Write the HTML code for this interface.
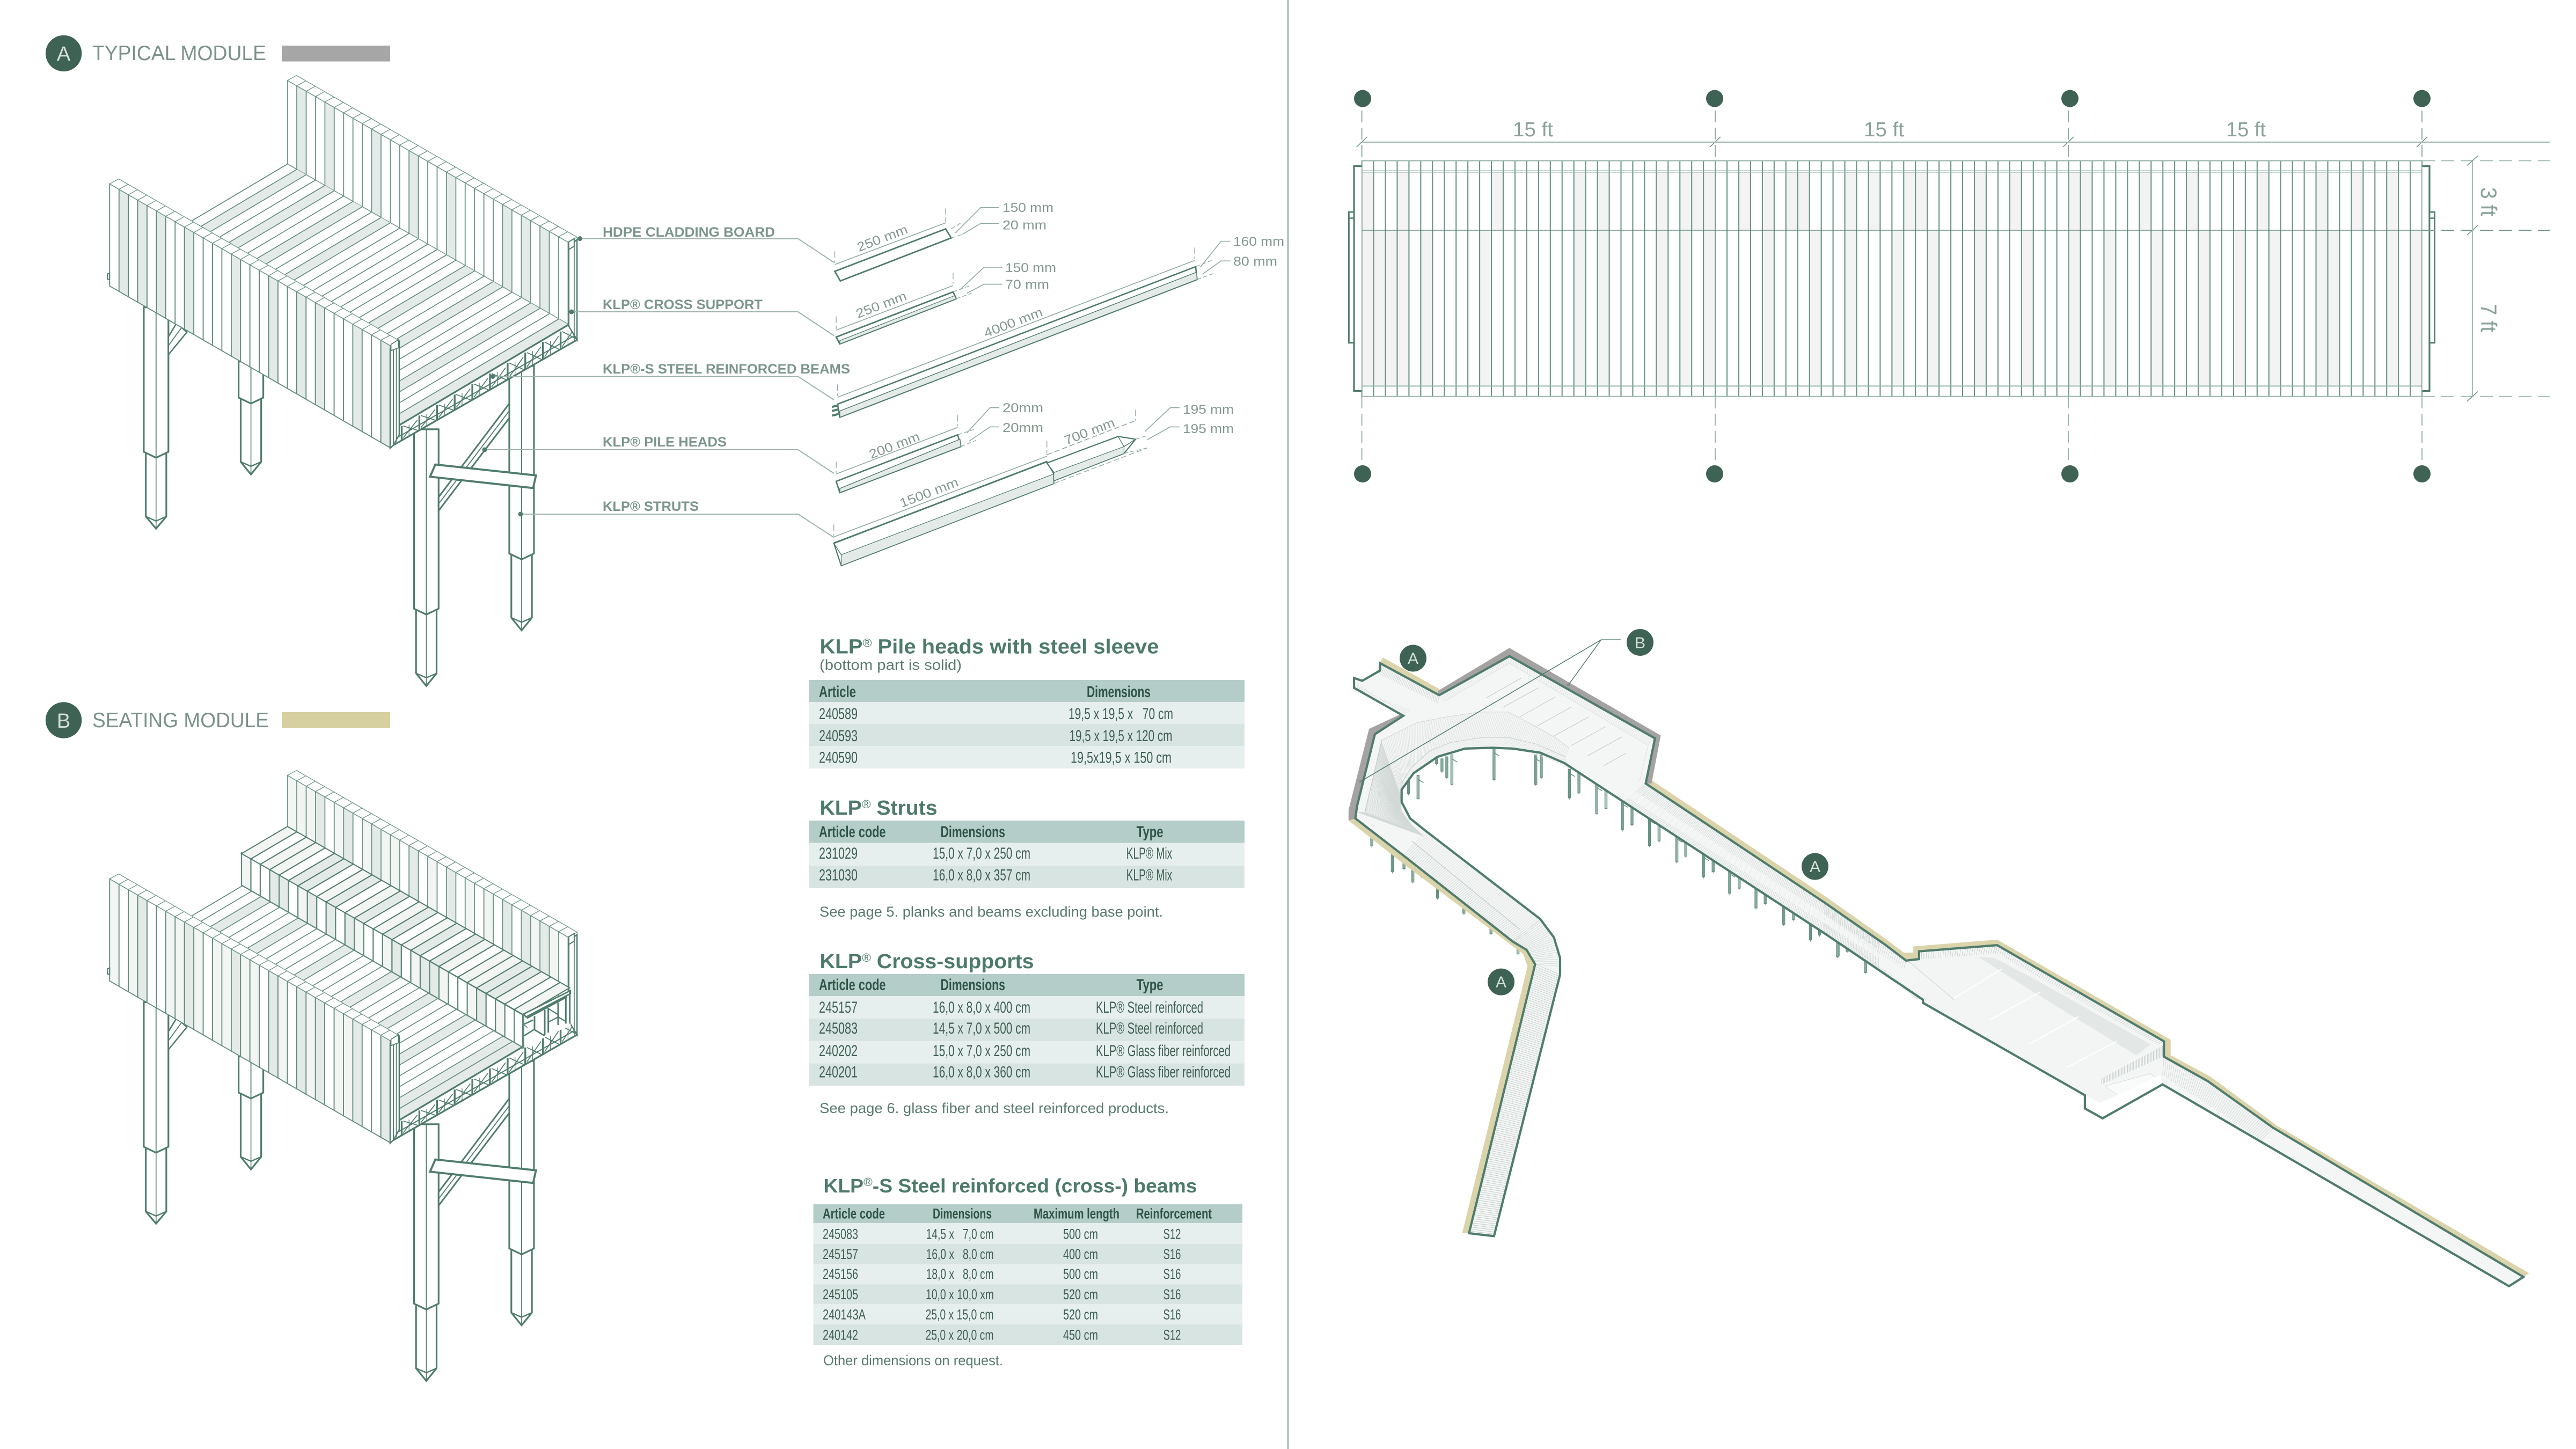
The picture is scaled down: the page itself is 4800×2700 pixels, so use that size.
<!DOCTYPE html>
<html><head><meta charset="utf-8"><title>KLP modules</title>
<style>
html,body{margin:0;padding:0;background:#fff;width:4800px;height:2700px;overflow:hidden}
svg{display:block;position:absolute;left:0;top:0}
text{font-family:"Liberation Sans",sans-serif}
.ti{font-size:39px;fill:#7a918a}
.lb{font-size:25px;font-weight:bold;fill:#7b958c}
.dm{font-size:24px;fill:#84998f}
.h{font-size:38px;font-weight:bold;fill:#4d7a6c}
.n{font-size:27px;fill:#5a7a70}
.th{font-size:30px;font-weight:bold;fill:#2f5548}
.td{font-size:30px;fill:#3f5f54}
.th2{font-size:27px;font-weight:bold;fill:#2f5548}
.td2{font-size:27px;fill:#3f5f54}
.ft{font-size:38px;fill:#8aa299}
.ft2{font-size:42px;fill:#8aa299}
.c{fill:#d5e0db;text-anchor:middle}
.r{font-size:22px;font-weight:normal}
</style></head><body>
<svg xmlns="http://www.w3.org/2000/svg" width="4800" height="2700" viewBox="0 0 4800 2700">
<rect width="4800" height="2700" fill="#fff"/>
<rect x="2398" y="0" width="4" height="2700" fill="#b5c9c3"/>
<g id="geo"></g>
<circle cx="118.6" cy="99.4" r="33.7" fill="#3e6253"/><text class="c" x="118.6" y="113" font-size="38">A</text>
<text class="ti" x="172" y="112" textLength="324" lengthAdjust="spacingAndGlyphs">TYPICAL MODULE</text>
<rect x="525" y="85" width="202" height="29.5" fill="#a6a6a6"/>
<circle cx="118.6" cy="1342" r="33.7" fill="#3e6253"/><text class="c" x="118.6" y="1356" font-size="38">B</text>
<text class="ti" x="172" y="1355" textLength="329" lengthAdjust="spacingAndGlyphs">SEATING MODULE</text>
<rect x="525" y="1327" width="202" height="29.5" fill="#d6cfa0"/>

<text class="lb" x="1123" y="441" textLength="321" lengthAdjust="spacingAndGlyphs">HDPE CLADDING BOARD</text>
<text class="lb" x="1123" y="576" textLength="298" lengthAdjust="spacingAndGlyphs">KLP® CROSS SUPPORT</text>
<text class="lb" x="1123" y="696" textLength="461" lengthAdjust="spacingAndGlyphs">KLP®-S STEEL REINFORCED BEAMS</text>
<text class="lb" x="1123" y="832" textLength="231" lengthAdjust="spacingAndGlyphs">KLP® PILE HEADS</text>
<text class="lb" x="1123" y="952" textLength="179" lengthAdjust="spacingAndGlyphs">KLP® STRUTS</text>

<text class="dm" x="1868" y="395" textLength="95" lengthAdjust="spacingAndGlyphs">150 mm</text>
<text class="dm" x="1868" y="427.5" textLength="82" lengthAdjust="spacingAndGlyphs">20 mm</text>
<text class="dm" x="1873" y="507" textLength="95" lengthAdjust="spacingAndGlyphs">150 mm</text>
<text class="dm" x="1873" y="538" textLength="82" lengthAdjust="spacingAndGlyphs">70 mm</text>
<text class="dm" x="2298" y="458" textLength="95" lengthAdjust="spacingAndGlyphs">160 mm</text>
<text class="dm" x="2298" y="495" textLength="82" lengthAdjust="spacingAndGlyphs">80 mm</text>
<text class="dm" x="1868" y="768" textLength="76" lengthAdjust="spacingAndGlyphs">20mm</text>
<text class="dm" x="1868" y="805" textLength="76" lengthAdjust="spacingAndGlyphs">20mm</text>
<text class="dm" x="2204" y="771" textLength="95" lengthAdjust="spacingAndGlyphs">195 mm</text>
<text class="dm" x="2204" y="807" textLength="95" lengthAdjust="spacingAndGlyphs">195 mm</text>
<g text-anchor="middle">
<text class="dm" x="1644" y="452" transform="rotate(-21 1644 444)" textLength="99" lengthAdjust="spacingAndGlyphs">250 mm</text>
<text class="dm" x="1642" y="576" transform="rotate(-21 1642 568)" textLength="99" lengthAdjust="spacingAndGlyphs">250 mm</text>
<text class="dm" x="1888" y="609" transform="rotate(-21 1888 601)" textLength="115" lengthAdjust="spacingAndGlyphs">4000 mm</text>
<text class="dm" x="1666.5" y="838" transform="rotate(-21 1666.5 830)" textLength="99" lengthAdjust="spacingAndGlyphs">200 mm</text>
<text class="dm" x="1731" y="926" transform="rotate(-21 1731 918)" textLength="115" lengthAdjust="spacingAndGlyphs">1500 mm</text>
<text class="dm" x="2030" y="812" transform="rotate(-21 2030 804)" textLength="99" lengthAdjust="spacingAndGlyphs">700 mm</text>
</g>

<!-- table backgrounds -->
<rect x="1507" y="1267" width="812" height="41" fill="#b5cdc8"/>
<rect x="1507" y="1308" width="812" height="40.6" fill="#e6efed"/>
<rect x="1507" y="1348.6" width="812" height="41.4" fill="#d8e4e1"/>
<rect x="1507" y="1390" width="812" height="42" fill="#e6efed"/>
<rect x="1507" y="1529" width="812" height="41.5" fill="#b5cdc8"/>
<rect x="1507" y="1570.5" width="812" height="42.5" fill="#e6efed"/>
<rect x="1507" y="1613" width="812" height="42" fill="#d8e4e1"/>
<rect x="1507" y="1815" width="812" height="41" fill="#b5cdc8"/>
<rect x="1507" y="1856" width="812" height="42" fill="#e6efed"/>
<rect x="1507" y="1898" width="812" height="42" fill="#d8e4e1"/>
<rect x="1507" y="1940" width="812" height="41.6" fill="#e6efed"/>
<rect x="1507" y="1981.6" width="812" height="41.4" fill="#d8e4e1"/>
<rect x="1515.5" y="2244" width="799.5" height="35" fill="#b5cdc8"/>
<rect x="1515.5" y="2279" width="799.5" height="39" fill="#e6efed"/>
<rect x="1515.5" y="2318" width="799.5" height="37.6" fill="#d8e4e1"/>
<rect x="1515.5" y="2355.6" width="799.5" height="37.9" fill="#e6efed"/>
<rect x="1515.5" y="2393.5" width="799.5" height="36.5" fill="#d8e4e1"/>
<rect x="1515.5" y="2430" width="799.5" height="38" fill="#e6efed"/>
<rect x="1515.5" y="2468" width="799.5" height="38" fill="#d8e4e1"/>

<!-- table 1 -->
<text class="h" x="1527.5" y="1217.5" textLength="632" lengthAdjust="spacingAndGlyphs">KLP<tspan class="r" dy="-12">®</tspan><tspan dy="12"> Pile heads with steel sleeve</tspan></text>
<text class="n" x="1527" y="1248" textLength="265" lengthAdjust="spacingAndGlyphs">(bottom part is solid)</text>
<text class="th" x="1526" y="1299" textLength="69" lengthAdjust="spacingAndGlyphs">Article</text>
<text class="th" x="2025" y="1299" textLength="119" lengthAdjust="spacingAndGlyphs">Dimensions</text>
<text class="td" x="1526" y="1340" textLength="72" lengthAdjust="spacingAndGlyphs">240589</text>
<text class="td" x="1991" y="1340" textLength="195" lengthAdjust="spacingAndGlyphs" xml:space="preserve">19,5 x 19,5 x   70 cm</text>
<text class="td" x="1526" y="1381" textLength="72" lengthAdjust="spacingAndGlyphs">240593</text>
<text class="td" x="1992.5" y="1381" textLength="192" lengthAdjust="spacingAndGlyphs">19,5 x 19,5 x 120 cm</text>
<text class="td" x="1526" y="1421.5" textLength="72" lengthAdjust="spacingAndGlyphs">240590</text>
<text class="td" x="1995" y="1421.5" textLength="188" lengthAdjust="spacingAndGlyphs">19,5x19,5 x 150 cm</text>

<!-- table 2 -->
<text class="h" x="1527.5" y="1518" textLength="219" lengthAdjust="spacingAndGlyphs">KLP<tspan class="r" dy="-12">®</tspan><tspan dy="12"> Struts</tspan></text>
<text class="th" x="1526" y="1560" textLength="124.5" lengthAdjust="spacingAndGlyphs">Article code</text>
<text class="th" x="1752.5" y="1560" textLength="120.5" lengthAdjust="spacingAndGlyphs">Dimensions</text>
<text class="th" x="2117.6" y="1560" textLength="50" lengthAdjust="spacingAndGlyphs">Type</text>
<text class="td" x="1526" y="1600" textLength="72" lengthAdjust="spacingAndGlyphs">231029</text>
<text class="td" x="1738" y="1600" textLength="182" lengthAdjust="spacingAndGlyphs">15,0 x 7,0 x 250 cm</text>
<text class="td" x="2098.7" y="1600" textLength="85.5" lengthAdjust="spacingAndGlyphs">KLP® Mix</text>
<text class="td" x="1526" y="1640.5" textLength="72" lengthAdjust="spacingAndGlyphs">231030</text>
<text class="td" x="1738" y="1640.5" textLength="182" lengthAdjust="spacingAndGlyphs">16,0 x 8,0 x 357 cm</text>
<text class="td" x="2098.7" y="1640.5" textLength="85.5" lengthAdjust="spacingAndGlyphs">KLP® Mix</text>
<text class="n" x="1527" y="1708" textLength="640" lengthAdjust="spacingAndGlyphs">See page 5. planks and beams excluding base point.</text>

<!-- table 3 -->
<text class="h" x="1527.5" y="1804" textLength="399" lengthAdjust="spacingAndGlyphs">KLP<tspan class="r" dy="-12">®</tspan><tspan dy="12"> Cross-supports</tspan></text>
<text class="th" x="1526" y="1845" textLength="124.5" lengthAdjust="spacingAndGlyphs">Article code</text>
<text class="th" x="1752.5" y="1845" textLength="120.5" lengthAdjust="spacingAndGlyphs">Dimensions</text>
<text class="th" x="2117.6" y="1845" textLength="50" lengthAdjust="spacingAndGlyphs">Type</text>
<text class="td" x="1526" y="1887" textLength="72" lengthAdjust="spacingAndGlyphs">245157</text>
<text class="td" x="1738" y="1887" textLength="182" lengthAdjust="spacingAndGlyphs">16,0 x 8,0 x 400 cm</text>
<text class="td" x="2042" y="1887" textLength="200" lengthAdjust="spacingAndGlyphs">KLP® Steel reinforced</text>
<text class="td" x="1526" y="1926" textLength="72" lengthAdjust="spacingAndGlyphs">245083</text>
<text class="td" x="1738" y="1926" textLength="182" lengthAdjust="spacingAndGlyphs">14,5 x 7,0 x 500 cm</text>
<text class="td" x="2042" y="1926" textLength="200" lengthAdjust="spacingAndGlyphs">KLP® Steel reinforced</text>
<text class="td" x="1526" y="1968" textLength="72" lengthAdjust="spacingAndGlyphs">240202</text>
<text class="td" x="1738" y="1968" textLength="182" lengthAdjust="spacingAndGlyphs">15,0 x 7,0 x 250 cm</text>
<text class="td" x="2042" y="1968" textLength="251" lengthAdjust="spacingAndGlyphs">KLP® Glass fiber reinforced</text>
<text class="td" x="1526" y="2007.6" textLength="72" lengthAdjust="spacingAndGlyphs">240201</text>
<text class="td" x="1738" y="2007.6" textLength="182" lengthAdjust="spacingAndGlyphs">16,0 x 8,0 x 360 cm</text>
<text class="td" x="2042" y="2007.6" textLength="251" lengthAdjust="spacingAndGlyphs">KLP® Glass fiber reinforced</text>
<text class="n" x="1527" y="2074" textLength="651" lengthAdjust="spacingAndGlyphs">See page 6. glass fiber and steel reinforced products.</text>

<!-- table 4 -->
<text class="h" x="1534.5" y="2222" style="font-size:36px" textLength="696" lengthAdjust="spacingAndGlyphs">KLP<tspan class="r" dy="-12">®</tspan><tspan dy="12">-S Steel reinforced (cross-) beams</tspan></text>
<text class="th2" x="1533" y="2270.5" textLength="116" lengthAdjust="spacingAndGlyphs">Article code</text>
<text class="th2" x="1738" y="2270.5" textLength="110" lengthAdjust="spacingAndGlyphs">Dimensions</text>
<text class="th2" x="1926" y="2270.5" textLength="160" lengthAdjust="spacingAndGlyphs">Maximum length</text>
<text class="th2" x="2117" y="2270.5" textLength="141" lengthAdjust="spacingAndGlyphs">Reinforcement</text>
<text class="td2" x="1533" y="2308.5" textLength="66" lengthAdjust="spacingAndGlyphs">245083</text>
<text class="td2" x="1725.6" y="2308.5" textLength="126" lengthAdjust="spacingAndGlyphs" xml:space="preserve">14,5 x   7,0 cm</text>
<text class="td2" x="1981" y="2308.5" textLength="65" lengthAdjust="spacingAndGlyphs">500 cm</text>
<text class="td2" x="2167.5" y="2308.5" textLength="33" lengthAdjust="spacingAndGlyphs">S12</text>
<text class="td2" x="1533" y="2346" textLength="66" lengthAdjust="spacingAndGlyphs">245157</text>
<text class="td2" x="1725.6" y="2346" textLength="126" lengthAdjust="spacingAndGlyphs" xml:space="preserve">16,0 x   8,0 cm</text>
<text class="td2" x="1981" y="2346" textLength="65" lengthAdjust="spacingAndGlyphs">400 cm</text>
<text class="td2" x="2167.5" y="2346" textLength="33" lengthAdjust="spacingAndGlyphs">S16</text>
<text class="td2" x="1533" y="2383" textLength="66" lengthAdjust="spacingAndGlyphs">245156</text>
<text class="td2" x="1725.6" y="2383" textLength="126" lengthAdjust="spacingAndGlyphs" xml:space="preserve">18,0 x   8,0 cm</text>
<text class="td2" x="1981" y="2383" textLength="65" lengthAdjust="spacingAndGlyphs">500 cm</text>
<text class="td2" x="2167.5" y="2383" textLength="33" lengthAdjust="spacingAndGlyphs">S16</text>
<text class="td2" x="1533" y="2421" textLength="66" lengthAdjust="spacingAndGlyphs">245105</text>
<text class="td2" x="1725" y="2421" textLength="127" lengthAdjust="spacingAndGlyphs">10,0 x 10,0 xm</text>
<text class="td2" x="1981" y="2421" textLength="65" lengthAdjust="spacingAndGlyphs">520 cm</text>
<text class="td2" x="2167.5" y="2421" textLength="33" lengthAdjust="spacingAndGlyphs">S16</text>
<text class="td2" x="1533" y="2458.6" textLength="80" lengthAdjust="spacingAndGlyphs">240143A</text>
<text class="td2" x="1724.5" y="2458.6" textLength="127" lengthAdjust="spacingAndGlyphs">25,0 x 15,0 cm</text>
<text class="td2" x="1981" y="2458.6" textLength="65" lengthAdjust="spacingAndGlyphs">520 cm</text>
<text class="td2" x="2167.5" y="2458.6" textLength="33" lengthAdjust="spacingAndGlyphs">S16</text>
<text class="td2" x="1533" y="2496.5" textLength="66" lengthAdjust="spacingAndGlyphs">240142</text>
<text class="td2" x="1724.5" y="2496.5" textLength="127" lengthAdjust="spacingAndGlyphs">25,0 x 20,0 cm</text>
<text class="td2" x="1981" y="2496.5" textLength="65" lengthAdjust="spacingAndGlyphs">450 cm</text>
<text class="td2" x="2167.5" y="2496.5" textLength="33" lengthAdjust="spacingAndGlyphs">S12</text>
<text class="n" x="1534" y="2544" textLength="335" lengthAdjust="spacingAndGlyphs">Other dimensions on request.</text>

<!-- plan labels -->
<text class="ft" x="2819" y="254" textLength="75" lengthAdjust="spacingAndGlyphs">15 ft</text>
<text class="ft" x="3473" y="254" textLength="75" lengthAdjust="spacingAndGlyphs">15 ft</text>
<text class="ft" x="4148" y="254" textLength="74" lengthAdjust="spacingAndGlyphs">15 ft</text>
<text class="ft2" x="4623" y="349" transform="rotate(90 4623 349)" textLength="54" lengthAdjust="spacingAndGlyphs">3 ft</text>
<text class="ft2" x="4623" y="566" transform="rotate(90 4623 566)" textLength="53" lengthAdjust="spacingAndGlyphs">7 ft</text>

<g id="cir"></g>
<text class="c" x="2633" y="1237" font-size="30">A</text>
<text class="c" x="3382" y="1625" font-size="30">A</text>
<text class="c" x="2797" y="1840" font-size="30">A</text>
<text class="c" x="3056" y="1208" font-size="30">B</text>
</svg>
<script>
var G='#4f7c6d',LG='#6f988a',FL='#5f8a7c',SH='#e4eae7',LS='#f3f5f3',DIM='#8fa99f';
var out=[];
function M(ox,oy,sx,sy){return function(p){return [+(ox+p[0]*sx).toFixed(1),+(oy+p[1]*sy).toFixed(1)];};}
function poly(m,pts,fill,stroke,w,open){
 var s=pts.map(function(p){return m(p).join(',');}).join(' ');
 out.push('<'+(open?'polyline':'polygon')+' points="'+s+'" fill="'+(fill||'none')+'" stroke="'+(stroke||'none')+'" stroke-width="'+(w||0)+'" stroke-linejoin="miter"/>');
}
function line(m,a,b,stroke,w,dash){
 var p=m(a),q=m(b);
 out.push('<line x1="'+p[0]+'" y1="'+p[1]+'" x2="'+q[0]+'" y2="'+q[1]+'" stroke="'+stroke+'" stroke-width="'+w+'"'+(dash?' stroke-dasharray="'+dash+'"':'')+'/>');
}
var I=function(p){return p;};

/* ---------- modules ---------- */
function module3d(oy,dy,seat){
 var base=M(0,oy,0.7653,0.842);
 var m=function(p){return base([p[0],p[1]+dy]);};
 var raw=base;
 var sx=22.77,sy=11.93;
 function leg(cx,top,sh,body,tip){
  poly(m,[[cx-25,sh+3],[cx-25,body],[cx,tip],[cx+25,body],[cx+25,sh+3]],'#fff',G,3.2);
  poly(m,[[cx-25,body],[cx,body+10],[cx+25,body]],'none',G,2.4,true);
  line(m,[cx,sh+10],[cx,tip],G,1.6);
  poly(m,[[cx-30,top],[cx-30,sh],[cx,sh+13],[cx+30,sh],[cx+30,top]],'#fff',G,3.2);
  line(m,[cx,top],[cx,sh+13],G,1.8);
 }
 leg(380,680,1000,1143,1170);leg(611,800,880,1022,1050);
 poly(m,[[410,745],[430,715],[455,735],[410,785]],'#fff',G,2.6);
 line(m,[410,765],[442,725],G,1.8);
 leg(1038,950,1347,1490,1518);leg(1270,810,1225,1367,1395);
 poly(m,[[1068,1100],[1240,893],[1240,925],[1068,1130]],'#fff',G,3);
 line(m,[1068,1115],[1240,909],G,1.8);
 poly(m,[[1047,1055],[1060,1028],[1305,1052],[1298,1080]],'#fff',G,3.8);
 var backS=seat?{3:1,6:1,9:1,13:1,17:1,23:1,25:1,27:1}:{1:1,4:1,9:1,13:1,17:1,23:1,25:1,27:1};
 var backL=seat?{0:1,1:1,2:1,5:1,8:1,10:1,11:1,15:1,19:1,21:1,26:1,28:1}:{};
 var i,x,y;
 /* back wall */
 for(i=0;i<30;i++){
  x=700+i*sx;y=178+i*sy;
  var f=backS[i]?SH:(backL[i]?LS:'#fff');
  poly(m,[[x,y],[x+sx,y+sy],[x+sx,y+sy+185],[x,y+185]],f,LG,1.8);
 }
 for(i=0;i<30;i++){
  x=700+i*sx;y=178+i*sy;
  poly(m,[[x,y],[x+22,y-11],[x+45,y+1],[x+sx,y+sy]],'#fff',LG,1.3);
 }
 /* floor */
 poly(m,[[700,363],[1385,718],[972,941],[287,586]],'#fff',LG,1.5);
 var fs=seat?{2:1,6:1,11:1,16:1,20:1,24:1,28:1,29:1}:{1:1,4:1,7:1,10:1,19:1,22:1,26:1,29:1};
 for(i=0;i<30;i++){
  x=700+i*sx;y=363+i*11.83;
  if(fs[i])poly(m,[[x,y],[x+sx,y+11.83],[x+sx-413,y+11.83+223],[x-413,y+223]],SH);
  line(m,[x,y],[x-413,y+223],FL,1.6);
 }
 /* truss */
 poly(m,[[958,985],[1405,752],[1385,718],[972,941],[958,962]],'#fff',G,3.2);
 line(m,[960,972],[1400,742],G,2);
 for(i=0;i<10;i++){
  x=978+i*43;
  var bt=985-(x-958)*0.521,tp=941-(x-972)*0.54;
  line(m,[x,tp+5],[x,bt],G,3.4);
  line(m,[x+4,tp+5],[x+40,bt-22],G,1.7);
  line(m,[x+4,bt-6],[x+38,tp-8],G,1.7);
  line(m,[x+18,tp+2],[x+18,bt-8],G,1.2);
 }
 /* right end frame */
 poly(m,[[1385,545],[1405,530],[1405,752],[1385,722]],'#fff',G,2.4);
 line(m,[1398,535],[1398,752],G,1.8);
 poly(m,[[1385,535],[1398,528],[1398,545],[1385,552]],'#fff',G,2);
 if(seat){
  poly(raw,[[588,343],[1275,703],[1275,772],[588,415]],'#fff',LG,1.5);
  var rs={3:1,4:1,7:1,9:1,11:1,16:1,19:1,20:1,25:1};
  for(i=0;i<30;i++){
   x=588+i*22.9;y=343+i*12;
   poly(raw,[[x,y],[x+22.9,y+12],[x+22.9,y+84],[x,y+72]],rs[i]?SH:(i%3==0?LS:'#fff'),FL,2.2);
  }
  var ss={5:1,6:1,9:1,12:1,15:1,18:1,20:1,25:1,26:1};
  for(i=0;i<30;i++){
   x=700+i*22.9;y=285+i*11.9;
   poly(raw,[[x,y],[x+22.9,y+11.9],[x+22.9-112,y+11.9+60],[x-112,y+60]],ss[i]?SH:(i%3==1?'#fff':LS),G,2);
  }
  /* seat end frame, traced in full px */
  var c=M(900,1800,1/3,1/3);
  poly(c,[[222,272],[485,140],[490,330],[228,455]],'#fff');
  poly(c,[[228,268],[488,138],[488,155],[240,285]],'#fff',G,2.6);
  line(c,[245,292],[470,172],G,3);
  line(c,[288,280],[288,358],G,3);line(c,[345,245],[345,385],G,3);line(c,[365,235],[365,372],G,3);
  line(c,[420,205],[420,330],G,3);line(c,[463,180],[463,322],G,3);line(c,[485,140],[485,322],G,3);
  line(c,[230,325],[280,302],G,2.6);line(c,[230,390],[285,355],G,2.6);line(c,[285,355],[345,390],G,2.6);
  line(c,[368,240],[420,272],G,2.2);line(c,[368,312],[420,285],G,2.2);line(c,[420,285],[463,310],G,2.2);
  line(c,[232,330],[248,345],G,1.6);
  poly(c,[[222,272],[228,270],[228,455],[222,458]],'#f3f5f3',FL,2);
 }
 /* front wall */
 var frS={1:1,3:1,5:1,8:1,13:1,17:1,20:1,22:1,26:1,29:1};
 var frL=seat?{0:1,2:1,6:1,7:1,9:1,11:1,12:1,14:1,15:1,18:1,21:1,24:1,25:1}:{};
 if(seat)frS={3:1,8:1,13:1,17:1,20:1,22:1,26:1,29:1};
 for(i=0;i<30;i++){
  x=267+i*sx;y=407+i*sy;
  var ff=frS[i]?SH:(frL[i]?LS:'#fff');
  poly(m,[[x,y],[x+sx,y+sy],[x+sx,y+sy+226],[x,y+226]],ff,FL,1.8);
 }
 for(i=0;i<30;i++){
  x=267+i*sx;y=407+i*sy;
  poly(m,[[x,y],[x+22,y-11],[x+45,y+1],[x+sx,y+sy]],'#fff',LG,1.3);
 }
 poly(m,[[262,606],[267,604],[267,618],[262,618]],'#fff',G,2);
 poly(m,[[950,772],[972,756],[972,962],[958,985],[950,992]],'#fff',G,2.4);
 line(m,[958,768],[958,985],G,2);line(m,[965,772],[965,978],G,1.6);
 poly(m,[[952,762],[970,752],[970,770],[952,776]],'#fff',G,1.6);
}
module3d(0,0,false);
module3d(1300,-6,true);

/* leaders */
function ld(pts){var s=pts.map(function(p){return p.join(',');}).join(' ');out.push('<polyline points="'+s+'" fill="none" stroke="#9db3ab" stroke-width="2"/>');}
ld([[1080.6,444.6],[1487.5,445],[1554,489]]);
ld([[1065,581],[1487,581],[1554,625.5]]);
ld([[918,701.5],[1487,701.5],[1554,745]]);
ld([[903,838],[1487,838],[1554,882]]);
ld([[970,958],[1487,958],[1554,1001.5]]);
[[1080.6,444.6],[1065,581],[918,701.5],[903,838],[970,958]].forEach(function(p){out.push('<circle cx="'+p[0]+'" cy="'+p[1]+'" r="4.5" fill="'+G+'"/>');});

/* parts */
var m2=M(1100,350,0.861,0.5102);
function dim(a,b){line(m2,a,b,DIM,1.6);}
function tick(x,y1,y2){line(m2,[x,y1],[x,y2],DIM,1.4,'12 5');}
poly(m2,[[529,305],[769,150],[781,183],[541,340]],'#fff',G,2.8);
dim([529,280],[769,128]);tick(529,232,275);tick(769,75,125);
poly(m2,[[532,545],[785,380],[792,405],[540,570]],'#fff',G,2.8);
poly(m2,[[540,558],[788,394],[792,405],[540,570]],SH,G,1.2);
dim([532,520],[785,357]);tick(532,470,515);tick(785,310,350);
poly(m2,[[535,790],[1310,288],[1313,335],[540,838]],'#fff',G,2.6);
poly(m2,[[540,815],[1312,308],[1313,335],[540,838]],SH,G,1.4);
dim([535,765],[1308,265]);tick(535,718,760);tick(1308,218,260);
[[800],[815],[832]].forEach(function(a){line(m2,[523,a[0]],[537,a[0]-6],G,4);});
poly(m2,[[532,1072],[795,902],[802,945],[540,1113]],'#fff',G,2.6);
poly(m2,[[540,1098],[800,918],[802,945],[540,1113]],SH,G,1.4);
dim([532,1045],[795,875]);tick(532,1000,1040);tick(795,830,870);
poly(m2,[[527,1298],[988,1000],[1003,1045],[1003,1080],[543,1380]],'#fff',G,2.2);
poly(m2,[[543,1340],[1003,1045],[1003,1080],[543,1380]],SH,G,1.2);
line(m2,[527,1298],[988,1000],G,3);
line(m2,[527,1298],[543,1340],G,1.4);
poly(m2,[[988,1005],[1142,908],[1180,918],[1155,970],[1003,1070],[1003,1040]],'#fff',G,2.2);
poly(m2,[[1003,1040],[1155,945],[1155,970],[1003,1070]],SH,G,1.2);
line(m2,[1142,908],[1155,945],G,1.4);line(m2,[1155,945],[1180,918],G,1.4);
dim([527,1275],[988,980]);line(m2,[988,975],[1180,850],DIM,1.6,'10 5');
line(m2,[1003,1080],[1205,950],DIM,1.4,'10 5');
tick(527,1230,1270);tick(988,925,970);tick(1180,810,850);
[[[845,72],[885,72],[790,165]],[[845,130],[885,130],[805,170]],[[852,290],[892,290],[800,372]],[[852,352],[892,352],[815,385]],
 [[1365,195],[1385,195],[1320,290]],[[1365,267],[1385,267],[1325,315]],[[865,803],[885,803],[815,895]],[[865,873],[885,873],[820,925]],
 [[1255,803],[1275,803],[1200,890]],[[1255,873],[1275,873],[1205,920]]].forEach(function(a){
 poly(m2,[a[1],a[0],a[2]],'none',DIM,1.6,true);
});
[[781,183,805,170],[781,150,805,125],[792,405,825,385],[785,380,820,358],[1313,335,1350,312],[1310,288,1345,265],[802,945,835,922],[795,902,835,880],[1155,970,1205,950],[1180,918,1205,905]].forEach(function(a){
 line(m2,[a[0],a[1]],[a[2],a[3]],DIM,1.3,'8 4');
});

/* ---------- plan ---------- */
var px0=2537.6,step=21.95,yT=299.4,yB=738.7,yM=429;
var topS=[0,3,11,18,20,25,27,28,29,32,34,36,37,41,43,46,47,52,55,60,61,66,70,76,81,84,87];
var botS=[0,1,2,3,5,10,18,20,25,27,29,34,38,41,45,48,52,56,60,63,67,71,74,77,81,82,87,89];
topS.forEach(function(i){out.push('<rect x="'+(px0+i*step)+'" y="321" width="'+step+'" height="108" fill="#f3f3f3"/>');});
botS.forEach(function(i){out.push('<rect x="'+(px0+i*step)+'" y="429" width="'+step+'" height="289" fill="#f3f3f3"/>');});
var i;
for(i=0;i<=90;i++){var X=px0+i*step;line(I,[X,yT],[X,yB],'#6a9486',2.1);}
line(I,[px0,yT],[4513,yT],'#9fb9b1',2.2);line(I,[px0,yB],[4513,yB],'#9fb9b1',2.2);
[318,321,718,720].forEach(function(y){line(I,[px0,y],[4513,y],'#8fb0a6',1.1);});
line(I,[px0,yM],[4513,yM],G,1.2);
function cap(x1,x2,x3){
 poly(I,[[x2,309.6],[x1,309.6],[x1,728.5],[x2,728.5]],'#fff',G,3.2,true);
 poly(I,[[x1,395],[x3,395],[x3,638.7],[x1,638.7]],'#fff',G,2.8);
 line(I,[x1,406.5],[x3,406.5],G,2.4);
}
cap(2523,2537.6,2513.4);cap(4527,4513,4536.6);
[2537.6,3196,3854,4513].forEach(function(x){
 line(I,[x,206],[x,299],'#7fa498',1.8,'22 10');
 line(I,[x,299],[x,739],'#7fa498',1.2);
 line(I,[x,739],[x,867],'#8fb0a6',1.8,'22 10');
 line(I,[x-10,274],[x+10,255],'#5f8b7c',1.4);
});
line(I,[2537.6,265],[4751,265],'#a5bdb6',2.4);
[299.4,429,738.7].forEach(function(y){
 line(I,[4513,y],[4751,y],y==429?'#6f988a':'#a5bdb6',2,'24 12');
 line(I,[4597,y+9],[4617,y-9],'#5f8b7c',1.4);
});
line(I,[4607,299.4],[4607,738.7],'#a5bdb6',2.2);
[2539,3195,3857,4513].forEach(function(x){
 [183.6,883].forEach(function(y){out.push('<circle cx="'+x+'" cy="'+y+'" r="16" fill="#3e6253"/>');});
});

/* ---------- site ---------- */
var z7=M(2500,1150,0.638,0.7653),z8=M(3400,1550,0.893,0.574),c3=M(2530,1230,1/3,1/3);
function both(arr){return arr.map(function(a){return a[2]==8?z8([a[0],a[1]]):z7([a[0],a[1]]);});}
function siteLeg(p,q,w){
 out.push('<rect x="'+(p[0]-w/2)+'" y="'+p[1]+'" width="'+w+'" height="'+(q[1]-p[1])+'" fill="#b4cdc4" stroke="#5f8b7c" stroke-width="1.3"/>');
 out.push('<line x1="'+p[0]+'" y1="'+p[1]+'" x2="'+q[0]+'" y2="'+(q[1]+3)+'" stroke="#5f8b7c" stroke-width="1"/>');
}
[[445,320,395],[567,335,407],[583,335,390],[665,370,440],[693,380,428],[745,405,478],[772,420,466],[820,445,518],[848,458,505],[899,485,556],[927,500,545],[979,530,596],[1005,545,582],[1057,575,632],[1085,590,620],[1133,615,672],[1161,630,660],[1210,660,708],[1237,675,697],[1291,705,748],[1320,720,737],[1369,748,786],[1396,760,774],[1450,795,825],[1530,840,862],[293,345,375],[307,340,390],[322,335,407],[277,345,357],[195,395,430],[223,385,442],[88,515,557],[125,530,555],[148,545,620],[182,560,612],[208,575,645],[234,590,632],[280,625,684],[307,640,670],[357,675,721],[385,690,709],[436,725,770],[462,740,757],[515,775,820],[541,795,808]].forEach(function(a){
 siteLeg(z7([a[0],a[1]]),z7([a[0],a[2]]),4);
 if(a[2]-a[1]>55)line(z7,[a[0],a[1]+10],[a[0]+16,a[1]+18],'#5f8b7c',1.4);
});
[[27,360,405],[47,375,388],[85,420,457]].forEach(function(a){siteLeg(z8([a[0],a[1]]),z8([a[0],a[2]]),4);});
var TAN='#dbd3aa',GR='#a5a2a2';
poly(I,both([[120,98],[285,175],[285,190],[112,112]]),TAN);
/* tan along the long run, one continuous edge into the lower crop */
poly(I,both([[905,397],[0,208,8],[125,345,8],[165,392,8],[185,392,8],[185,372,8],[360,350,8],[722,675,8],[722,725,8],[805,795,8],[945,955,8],[1470,1433,8],[1458,1445,8],[935,960,8],[800,810,8],[708,730,8],[708,680,8],[360,368,8],[197,388,8],[197,413,8],[170,418,8],[125,365,8],[0,232,8],[888,405]]),TAN);
poly(I,both([[20,495],[40,490],[180,580],[500,790],[540,810],[565,845],[372,1500],[352,1500],[543,850],[530,820],[180,600]]),TAN);
poly(I,both([[20,495],[42,490],[97,285],[180,240],[170,237],[80,272],[20,470]]),GR);
poly(I,both([[280,180],[490,75],[932,288],[905,405],[888,405],[915,295],[490,95],[285,190]]),GR);
var OUT=both([[36,148],[60,155],[112,130],[112,112],[285,190],[490,95],[915,295],[888,405],
 [0,230,8],[125,365,8],[170,418,8],[197,413,8],[197,388,8],[360,368,8],[708,680,8],[708,730,8],[800,810,8],[935,960,8],[1458,1445,8],[1428,1475,8],[705,820,8],[580,930,8],[543,898,8],[543,855,8],[205,555,8],[205,545,8],[0,330,8],
 [650,355],[580,330],[500,320],[440,318],[360,320],[280,340],[210,380],[175,420],[175,450],[200,490],[245,520],[580,735],[620,780],[638,830],[638,870],[445,1507],[372,1500],[565,845],[540,810],[500,790],[180,580],[40,490],[45,460],[97,285],[180,240],[36,172]]);
poly(I,OUT,'#f4f6f5');
function interp(pl,t){
 var d=[0],k;
 for(k=1;k<pl.length;k++){d[k]=d[k-1]+Math.hypot(pl[k][0]-pl[k-1][0],pl[k][1]-pl[k-1][1]);}
 var L=d[d.length-1]*t;
 for(k=1;k<pl.length;k++){ if(L<=d[k]){var u=(L-d[k-1])/((d[k]-d[k-1])||1);return [pl[k-1][0]+u*(pl[k][0]-pl[k-1][0]),pl[k-1][1]+u*(pl[k][1]-pl[k-1][1])];}}
 return pl[pl.length-1];
}
function hatch(A,B,n,c,w){
 for(var k=0;k<=n;k++){var t=k/n;line(I,interp(A,t),interp(B,t),c||'#d5dcd9',w||0.9);}
}
function cc(arr){return arr.map(c3);}
/* lower leg */
hatch(both([[372,1500],[565,845]]),both([[445,1507],[638,870]]),130,'#c6cfcb',1);
/* bend */
hatch(both([[565,845],[540,810],[500,790]]),both([[638,850],[620,780],[580,735]]),22,'#d5dcd9',1);
/* diagonal run after the U */
hatch(both([[180,580],[500,790]]),both([[215,550],[540,770]]),70,'#d2d9d6',0.9);
hatch(both([[215,550],[540,770]]),both([[245,520],[580,735]]),70,'#dfe4e2',0.9);
line(I,z7([205,545]),z7([520,760]),'#c3ccc8',1.2);
/* arch ring */
var ringIn=cc([[240,760],[250,680],[300,600],[400,510],[520,460],[700,432],[840,432],[1000,470],[1160,540]]);
var archEd=cc([[235,770],[260,680],[330,620],[440,550],[560,510],[760,490],[900,505],[1040,545],[1180,605]]);
var ringOut=cc([[130,450],[330,350],[480,320],[680,290],[840,290],[900,320],[1000,375],[1100,430],[1180,490]]);
hatch(archEd,ringIn,130,'#e0e5e3',0.8);
hatch(ringIn,ringOut,110,'#dbe0de',0.8);
poly(I,ringIn,'none','#c3ccc8',1,true);
poly(I,ringOut,'none','#d0d7d4',1,true);
/* fan at the left of the U */
hatch(cc([[240,760],[245,850],[300,920],[370,985]]),cc([[130,450],[90,640],[40,850],[0,850]]),70,'#d2d9d6',0.9);
poly(I,cc([[135,445],[90,640],[40,850]]),'none','#c3ccc8',1.4,true);
/* plaza diagonals */
[[720,210,915,100],[810,265,1010,155],[905,318,1105,205],[1000,370,1195,262],[1095,425,1290,318],[1190,480,1385,372],[1285,535,1478,428],[1375,590,1500,520]].forEach(function(a){line(c3,[a[0],a[1]],[a[2],a[3]],'#bcc6c2',1);});
/* plaza edge bands */
hatch(both([[285,190],[490,95],[915,295]]),both([[300,205],[490,112],[895,312]]),120,'#dfe4e2',0.9);
poly(I,both([[300,205],[490,112],[895,312],[870,400]]),'none','#dfe4e2',1.2,true);
/* stub */
hatch(both([[112,115],[285,190]]),both([[100,135],[280,210]]),40,'#cfd6d3',0.9);
hatch(both([[36,155],[180,240]]),both([[36,175],[200,225]]),30,'#dfe4e2',0.9);
/* right long run */
hatch(both([[888,405],[1568,780]]),both([[860,425],[1568,808]]),160,'#d2d9d6',0.9);
hatch(both([[860,425],[1568,808]]),both([[840,440],[1568,830]]),50,'#e6eae8',0.9);
hatch(both([[840,440],[1568,830]]),both([[820,450],[1568,855]]),160,'#d2d9d6',0.9);
/* z8 run upper */
hatch(both([[0,232,8],[125,365,8],[170,418,8]]),both([[0,270,8],[110,390,8],[165,445,8]]),40,'#d2d9d6',0.9);
hatch(both([[0,295,8],[205,545,8]]),both([[0,328,8],[190,540,8]]),60,'#d5dcd9',0.9);
/* z8 plaza */
poly(I,both([[197,413,8],[360,393,8],[695,690,8],[575,800,8],[575,820,8],[610,860,8],[580,880,8],[543,852,8],[205,550,8],[175,420,8]]),'#f3f5f4');
hatch(both([[197,388,8],[360,368,8],[708,680,8]]),both([[197,413,8],[360,395,8],[695,690,8]]),110,'#c6cfcb',0.9);
poly(I,both([[355,410,8],[440,480,8],[680,690,8],[650,725,8],[420,505,8],[320,405,8]]),'#e3e7e5');
[[270,540,370,445],[345,610,450,520],[425,690,530,600],[505,765,610,680]].forEach(function(a){line(z8,[a[0],a[1]],[a[2],a[3]],'#fff',2);});
line(z8,[175,420],[270,545],'#cfd6d3',1.2);
hatch(both([[578,800,8],[705,695,8]]),both([[578,820,8],[705,730,8]]),40,'#bcc6c2',0.9);
poly(I,both([[585,825,8],[680,785,8],[705,815,8],[615,860,8]]),'#f9fafa','#d9dfdc',1);
poly(I,both([[543,855,8],[575,880,8],[700,790,8],[705,820,8],[580,930,8],[543,898,8]]),'#fff');
/* z8 lower run */
hatch(both([[708,735,8],[800,815,8],[935,965,8]]),both([[705,790,8],[800,885,8],[910,1000,8]]),55,'#d2d9d6',0.9);
poly(I,OUT,'none',G,4.2);
/* leader B */
poly(z7,[[815,55],[758,55],[55,400]],'none',G,1.5,true);
line(z7,[758,55],[662,165],G,1.5);
[[55,400],[662,165]].forEach(function(p){var q=z7(p);out.push('<circle cx="'+q[0]+'" cy="'+q[1]+'" r="2.5" fill="#7d8d87"/>');});
[[2633,1226.5],[3382,1614.5],[2797,1829.6],[3056,1197]].forEach(function(c){out.push('<circle cx="'+c[0]+'" cy="'+c[1]+'" r="25" fill="#3e6253"/>');});
document.getElementById('geo').innerHTML=out.join('');
</script>
</body></html>
